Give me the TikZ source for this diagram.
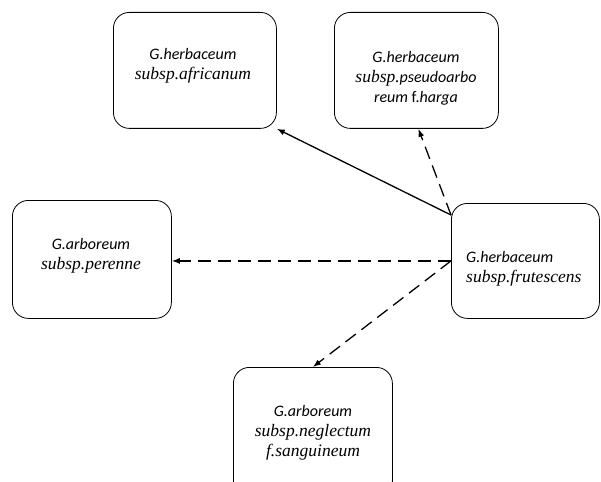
\documentclass[tikz,border=0pt]{standalone}
\usepackage{fontspec}
\setmainfont{Liberation Serif}
\setsansfont{Carlito}
\usetikzlibrary{arrows.meta,calc}
\tikzset{
  box/.style={draw, line width=0.8pt, rounded corners=16pt, anchor=north west, inner sep=0pt},
  txt/.style={align=center, font=\fontsize{16}{20}\selectfont, inner sep=0pt},
  sans/.style={},
  link/.style={line width=1.3pt, -{Latex[length=8pt,width=6pt]}},
  dlink/.style={link, dash pattern=on 13pt off 7pt},
}
\begin{document}
\begin{tikzpicture}[x=1pt,y=-1pt]
\useasboundingbox (0,0) rectangle (601,481);
\node[box, minimum width=163pt, minimum height=116pt] (afr) at (113,12) {};
\node[box, minimum width=164pt, minimum height=116pt] (har) at (334,12) {};
\node[box, minimum width=159pt, minimum height=118pt] (per) at (12,200) {};
\node[box, minimum width=148pt, minimum height=115pt] (fru) at (451,203) {};
\node[box, minimum width=159pt, minimum height=130pt] (neg) at (233,367) {};
\node[txt] (tafr) at (193,66) {{\sffamily\itshape G.herbaceum}\\{\rmfamily\itshape\fontsize{17.5}{20}\selectfont subsp.africanum}};
\node[txt] (thar) at (416,78) {{\sffamily\itshape G.herbaceum}\\{\rmfamily\itshape\fontsize{17.5}{20}\selectfont subsp.}{\sffamily\itshape pseudoarbo}\\{\sffamily\itshape reum \upshape f.\itshape harga}};
\node[txt] (tper) at (91,256) {{\sffamily\itshape G.arboreum}\\{\rmfamily\itshape\fontsize{17.5}{20}\selectfont subsp.perenne}};
\node[txt, align=left, anchor=west] (tfru) at (466,269) {{\sffamily\itshape G.herbaceum}\\{\rmfamily\itshape\fontsize{17.5}{20}\selectfont subsp.frutescens}};
\node[txt] (tneg) at (313,433) {{\sffamily\itshape G.arboreum}\\{\rmfamily\itshape\fontsize{17.5}{20}\selectfont subsp.neglectum}\\{\rmfamily\itshape\fontsize{17.5}{20}\selectfont f.sanguineum}};
\coordinate (s1) at ($(fru.north west)+(0,12)$);
\draw[link] (s1) -- (afr.south east);
\draw[dlink] (s1) -- ($(har.south)+(2,0)$);
\draw[dlink] (fru.west) -- (fru.west -| per.east);
\draw[dlink] (fru.west) -- (neg.north);
\end{tikzpicture}
\end{document}
